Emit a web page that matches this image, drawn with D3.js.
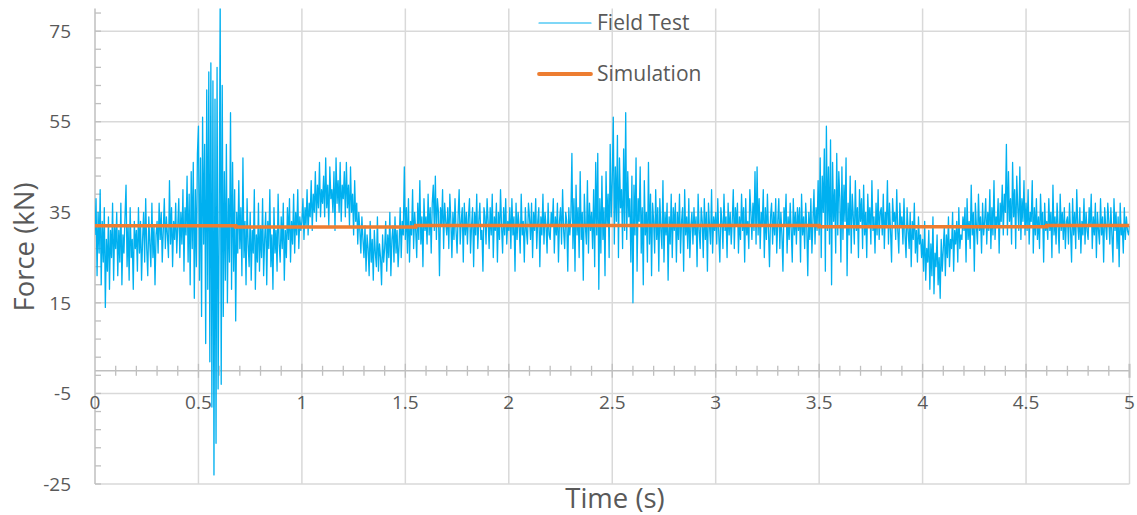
<!DOCTYPE html>
<html>
<head>
<meta charset="utf-8">
<script src="https://cdn.jsdelivr.net/npm/d3@7"></script>
<style>
  html, body { margin: 0; padding: 0; background: #fff; }
  svg { display: block; font-family: "Open Sans", sans-serif; }
  .tick-label { fill: #595959; font-size: 19px; }
  .title { fill: #595959; font-size: 27.5px; }
  .legend-label { fill: #595959; font-size: 21px; }
</style>
</head>
<body>
<svg id="chart" width="1137" height="515"></svg>
<script>
// field test samples, one every 5 ms from 0 to 5 s
const sampleStep = 0.005
const fieldForce = [
  30,38,21,35,26,40,19,33,24,36,14,29,22,34,18,31,25,37,20,32,
  27,35,21,31,24,37,19,30,26,34,41,23,32,20,36,25,29,18,33,27,
  31,22,36,26,33,20,29,35,24,38,27,21,34,28,23,37,25,32,19,30,
  33,26,37,29,35,24,31,38,27,34,30,25,42,28,36,23,33,29,37,26,
  32,38,25,35,28,40,22,36,30,43,24,39,19,44,27,46,16,40,23,48,
  54,20,47,12,56,28,50,6,62,18,66,2,68,-8,64,-23,60,-16,67,-4,
  30,82,-3,63,12,44,20,50,15,38,24,57,18,46,22,40,11,35,26,42,
  27,36,21,47,25,33,19,38,28,23,35,20,31,26,40,18,30,24,37,22,
  32,25,38,21,29,35,19,33,27,40,23,30,18,36,26,31,22,39,28,24,
  34,27,37,20,31,25,36,29,38,24,33,28,39,26,35,30,40,27,34,31,
  33,38,29,36,32,40,30,37,34,42,31,39,35,44,33,41,36,46,34,40,
  37,43,34,47,36,41,32,45,38,40,35,44,31,47,37,42,35,46,33,41,
  38,44,34,46,36,41,32,45,35,39,30,42,33,37,28,35,31,26,34,29,
  25,32,22,30,27,21,33,24,29,20,31,26,23,34,22,28,25,19,30,24,
  27,33,22,30,25,35,21,29,32,24,34,26,31,23,28,36,25,33,30,45,
  29,36,26,38,24,33,30,40,27,35,31,25,37,29,42,28,34,23,38,31,
  34,28,39,30,36,26,37,41,31,43,29,38,35,21,36,32,40,27,37,33,
  30,36,27,39,33,25,35,29,38,31,26,34,40,28,33,36,24,37,30,35,
  28,34,38,26,32,36,23,35,30,39,27,33,37,29,31,22,36,34,28,38,
  33,27,36,30,39,25,34,31,37,24,35,29,40,32,26,36,30,38,28,33,
  31,36,27,38,30,34,22,37,29,35,32,26,39,30,33,24,36,31,28,37,
  34,29,37,25,35,31,38,27,33,36,23,34,30,39,28,35,32,26,37,30,
  29,35,32,38,26,34,30,37,24,33,36,28,40,31,27,35,33,22,36,30,
  34,48,27,38,22,41,30,36,25,44,29,35,20,39,32,28,42,26,37,31,
  35,27,40,23,46,30,48,18,38,26,43,29,36,21,44,32,39,25,50,34,
  42,56,28,45,33,52,25,47,36,40,27,49,31,57,29,44,34,38,24,43,
  15,41,30,47,22,38,33,45,26,36,19,42,30,35,24,46,28,39,21,37,
  33,26,40,29,36,22,38,31,27,42,24,35,30,37,20,34,28,39,25,36,
  31,37,24,35,29,39,26,33,36,22,40,30,34,27,38,25,32,35,28,36,
  30,34,23,39,31,27,36,33,25,38,29,35,22,37,32,28,40,26,34,31,
  35,28,38,30,24,36,33,27,39,31,34,25,37,30,35,28,33,40,27,36,
  32,37,26,34,29,39,31,36,24,38,30,33,27,40,35,29,37,31,44,28,
  45,30,38,27,35,32,40,25,36,29,39,31,23,34,37,28,35,30,38,26,
  33,38,27,35,30,22,36,32,39,26,34,29,37,31,24,38,30,35,28,36,
  31,36,24,39,30,34,27,37,32,21,35,29,38,26,33,40,28,36,31,42,
  30,47,25,43,35,49,22,54,31,45,28,51,19,46,33,40,26,48,30,44,
  38,24,45,29,41,33,47,21,37,30,43,26,39,34,28,42,31,36,25,40,
  33,38,27,41,30,35,25,39,32,36,28,42,31,34,26,37,30,40,29,35,
  36,30,39,27,35,32,42,28,37,31,24,38,33,35,29,40,31,26,37,32,
  34,28,38,30,25,36,31,27,35,23,33,29,37,26,31,24,34,28,30,25,
  29,22,33,20,27,24,31,18,28,21,34,17,26,23,30,19,25,16,29,22,
  27,32,21,30,25,34,23,29,27,35,22,31,28,33,24,36,27,30,29,34,
  31,36,24,38,29,33,27,41,30,35,22,37,32,28,39,31,34,26,37,30,
  33,38,28,35,31,40,27,36,30,42,29,34,32,38,26,37,33,41,30,39,
  35,50,30,44,33,38,28,46,34,40,27,43,36,31,45,29,38,33,42,30,
  37,31,40,28,35,33,42,26,36,30,38,29,34,27,39,32,35,24,37,31,
  33,29,38,31,35,25,41,30,34,28,37,32,26,39,31,35,29,36,27,33,
  34,28,37,31,24,38,30,35,27,40,32,29,36,26,33,30,38,28,35,31,
  29,36,32,39,27,34,30,37,25,35,31,28,38,30,34,24,36,32,29,37,
  33,28,36,30,24,38,31,35,27,34,23,37,30,32,26,36,29,34,31,30,
  32
]

// simulation (step values)
const simTime = [0, 0.68, 1.55, 3.5, 4.6, 5]
const simForce = [32.0, 31.75, 32.1, 31.8, 32.1, 32.1]

const xTicks = [0, 0.5, 1, 1.5, 2, 2.5, 3, 3.5, 4, 4.5, 5]
const yTicks = [-25, -5, 15, 35, 55, 75]
const seriesNames = ["Field Test", "Simulation"]
const seriesColors = ["#00b0f0", "#ed7d31"]

const svg = d3.select("#chart")
const x = d3.scaleLinear().domain([0, 5]).range([95, 1129.5])
const y = d3.scaleLinear().domain([-25, 80]).range([484, 8.5])

svg.append("defs").append("clipPath").attr("id", "plotClip")
  .append("rect")
  .attr("x", x(0)).attr("y", y(80))
  .attr("width", x(5) - x(0)).attr("height", y(-25) - y(80))

// gridlines
const grid = svg.append("g")
grid.selectAll(".hgrid").data(yTicks).join("line")
  .attr("x1", x(0)).attr("x2", x(5))
  .attr("y1", d => y(d)).attr("y2", d => y(d))
  .attr("stroke", "#d9d9d9").attr("stroke-width", 1.5)
grid.selectAll(".vgrid").data(xTicks.slice(1)).join("line")
  .attr("x1", d => x(d)).attr("x2", d => x(d))
  .attr("y1", y(80)).attr("y2", y(-25))
  .attr("stroke", "#d9d9d9").attr("stroke-width", 1.5)

// y axis, minor ticks every 4 on the inside
const yAxis = svg.append("g")
yAxis.append("line")
  .attr("x1", x(0)).attr("x2", x(0)).attr("y1", y(80)).attr("y2", y(-25))
  .attr("stroke", "#bfbfbf").attr("stroke-width", 1.5)
yAxis.selectAll(".ymin").data(d3.range(-25, 80, 4)).join("line")
  .attr("x1", x(0)).attr("x2", x(0) + 6)
  .attr("y1", d => y(d)).attr("y2", d => y(d))
  .attr("stroke", "#bfbfbf").attr("stroke-width", 1.3)
yAxis.selectAll("text").data(yTicks).join("text")
  .attr("class", "tick-label")
  .attr("x", 71).attr("y", d => y(d)).attr("dy", "0.35em")
  .attr("text-anchor", "end")
  .text(d => d)

// x axis crossing at 0, minor ticks every 0.1
const xAxis = svg.append("g")
xAxis.append("line")
  .attr("x1", x(0)).attr("x2", x(5)).attr("y1", y(0)).attr("y2", y(0))
  .attr("stroke", "#bfbfbf").attr("stroke-width", 1.5)
xAxis.selectAll(".xmin").data(d3.range(1, 51)).join("line")
  .attr("x1", d => x(d / 10)).attr("x2", d => x(d / 10))
  .attr("y1", d => y(0) - (d % 5 === 0 ? 7 : 5))
  .attr("y2", d => y(0) + (d % 5 === 0 ? 7 : 5))
  .attr("stroke", "#bfbfbf").attr("stroke-width", d => d === 50 ? 2 : 1.3)
xAxis.selectAll("text").data(xTicks).join("text")
  .attr("class", "tick-label")
  .attr("x", d => x(d)).attr("y", 409)
  .attr("text-anchor", "middle")
  .text(d => d)

// series
const plot = svg.append("g").attr("clip-path", "url(#plotClip)")
const fieldLine = d3.line()
  .x((d, i) => x(i * sampleStep))
  .y(d => y(d))
plot.append("path")
  .datum(fieldForce)
  .attr("d", fieldLine)
  .attr("fill", "none")
  .attr("stroke", seriesColors[0])
  .attr("stroke-width", 1.3)
  .attr("stroke-linejoin", "round")

const simLine = d3.line()
  .x(d => x(d[0]))
  .y(d => y(d[1]))
  .curve(d3.curveStepAfter)
plot.append("path")
  .datum(simTime.map((t, i) => [t, simForce[i]]))
  .attr("d", simLine)
  .attr("fill", "none")
  .attr("stroke", seriesColors[1])
  .attr("stroke-width", 3.5)

// titles
svg.append("text")
  .attr("class", "title")
  .attr("x", 615).attr("y", 508)
  .attr("text-anchor", "middle")
  .text("Time (s)")
svg.append("text")
  .attr("class", "title")
  .attr("transform", "translate(34,247) rotate(-90)")
  .attr("text-anchor", "middle")
  .text("Force (kN)")

// legend
const legend = svg.append("g")
const legendY = [23, 74]
const legendW = [1.2, 3.8]
seriesNames.forEach((name, i) => {
  legend.append("line")
    .attr("x1", 539).attr("x2", 591)
    .attr("y1", legendY[i]).attr("y2", legendY[i])
    .attr("stroke", seriesColors[i])
    .attr("stroke-width", legendW[i])
    .attr("stroke-linecap", "round")
  legend.append("text")
    .attr("class", "legend-label")
    .attr("x", 597).attr("y", legendY[i]).attr("dy", "0.35em")
    .text(name)
})
</script>
</body>
</html>
